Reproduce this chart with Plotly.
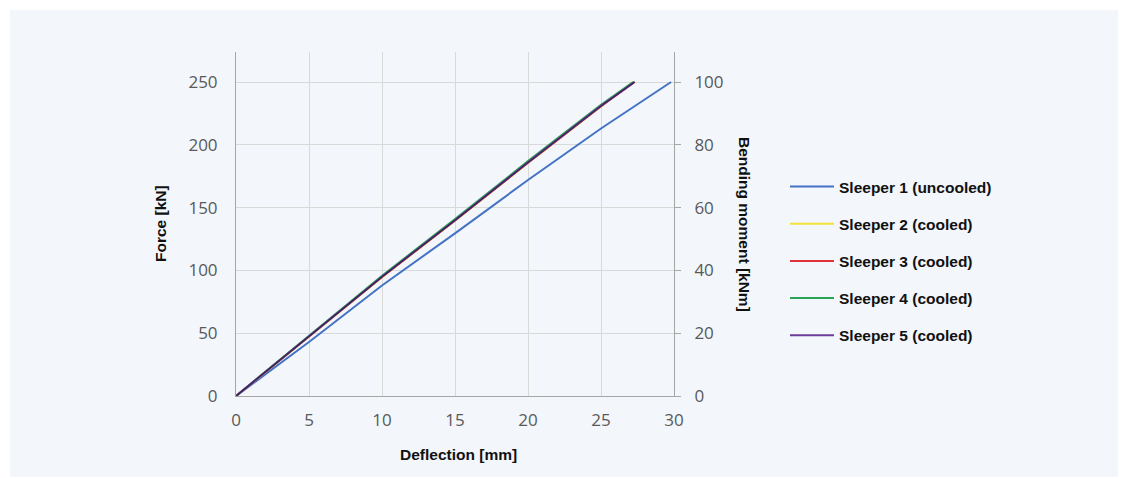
import plotly.graph_objects as go

# ---- data ----
s1_defl = [0, 2.5, 5, 10, 15, 20, 25, 29.8]
s1_force = [0, 21.5, 43, 88, 129.5, 172, 213, 250]

s2_defl = [0, 5, 10, 15, 20, 25, 27.2]
s2_force = [0, 47.2, 94.6, 139.6, 185.6, 230.6, 250]

s3_defl = [0, 5, 10, 15, 20, 25, 27.3]
s3_force = [0, 47.3, 94.8, 139.8, 185.8, 230.8, 250]

s4_defl = [0, 5, 10, 15, 20, 25, 27.2]
s4_force = [0, 48.2, 95.8, 140.8, 187, 231.8, 250]

s5_defl = [0, 5, 10, 15, 20, 25, 27.3]
s5_force = [0, 47.5, 95, 140, 186, 231, 250]

names = ["Sleeper 1 (uncooled)", "Sleeper 2 (cooled)", "Sleeper 3 (cooled)",
         "Sleeper 4 (cooled)", "Sleeper 5 (cooled)"]
colors = ["#4472C4", "#F2E33A", "#E0303A", "#27A455", "#6A3D9A"]

x_ticks = [0, 5, 10, 15, 20, 25, 30]
force_ticks = [0, 50, 100, 150, 200, 250]
moment_ticks = [0, 20, 40, 60, 80, 100]
force_max = 273.9
moment_per_force = 0.4

series = [(s1_defl, s1_force), (s2_defl, s2_force), (s3_defl, s3_force),
          (s4_defl, s4_force), (s5_defl, s5_force)]

fig = go.Figure()
for i, ((xd, yd), name, col) in enumerate(zip(series, names, colors)):
    fig.add_trace(go.Scatter(
        x=xd, y=yd, mode="lines", name=f"<b>{name}</b>",
        line=dict(color=col, width=2),
        legendgroup=f"g{i}",
    ))

# dark overlay of the coincident cooled curves (as in the reference)
fig.add_trace(go.Scatter(
    x=s5_defl, y=s5_force, mode="lines", showlegend=False,
    line=dict(color="#3A1F55", width=1.2), hoverinfo="skip",
))

# invisible companion trace so the secondary axis is rendered
fig.add_trace(go.Scatter(
    x=s1_defl, y=[v * moment_per_force for v in s1_force], yaxis="y2",
    mode="lines", line=dict(width=0), opacity=0, showlegend=False,
    hoverinfo="skip",
))

bg = "#F3F6FB"
tick_font = dict(family="Open Sans, Arial", size=17, color="#595959")
title_font = dict(family="Liberation Sans, Arial", size=15.5, color="#111111")

OFF = 8  # page body margin
W, H = 1126 - OFF, 478 - OFF
L, R, T, B = 236 - OFF, 674 - OFF, 52 - OFF, 396 - OFF
pw, ph = R - L, B - T

def px(xp):
    return (xp - OFF - L) / pw

def py(yp):
    return (B - (yp - OFF)) / ph

fig.update_layout(
    width=W, height=H, autosize=False,
    margin=dict(l=L, r=W - R, t=T, b=H - B),
    paper_bgcolor="white",
    plot_bgcolor=bg,
    showlegend=True,
    legend=dict(
        x=px(785), y=py(170), xanchor="left", yanchor="top",
        bgcolor="rgba(0,0,0,0)",
        font=dict(family="Liberation Sans, Arial", size=15.5, color="#111111"),
        tracegroupgap=14,
        traceorder="grouped",
        itemwidth=44,
    ),
    xaxis=dict(
        range=[0, 30], tickvals=x_ticks, showgrid=True, gridcolor="#D9D9D9",
        gridwidth=1, showline=True, linecolor="#A6A6A6", linewidth=1,
        zeroline=False, ticks="", tickfont=tick_font, ticklabelstandoff=9,
        fixedrange=True,
    ),
    yaxis=dict(
        range=[0, force_max], tickvals=force_ticks, showgrid=True,
        gridcolor="#D9D9D9", gridwidth=1, showline=True, linecolor="#A6A6A6",
        linewidth=1, zeroline=False, ticks="", tickfont=tick_font,
        ticklabelstandoff=14,
    ),
    yaxis2=dict(
        range=[0, force_max * moment_per_force], tickvals=moment_ticks,
        overlaying="y", side="right", showgrid=False, showline=True,
        linecolor="#A6A6A6", linewidth=1, zeroline=False, ticks="outside",
        ticklen=6, tickcolor="#A6A6A6", tickfont=tick_font,
        ticklabelstandoff=10,
    ),
    shapes=[
        dict(type="rect", xref="paper", yref="paper", layer="below",
             x0=px(10), x1=px(1140), y0=py(477), y1=py(10),
             fillcolor=bg, line=dict(width=0)),
    ],
    annotations=[
        dict(text="<b>Force [kN]</b>", xref="paper", yref="paper",
             x=px(160), y=py(224), textangle=-90, showarrow=False,
             font=title_font, xanchor="center", yanchor="middle"),
        dict(text="<b>Bending moment [kNm]</b>", xref="paper", yref="paper",
             x=px(745), y=py(224), textangle=90, showarrow=False,
             font=title_font, xanchor="center", yanchor="middle"),
        dict(text="<b>Deflection [mm]</b>", xref="paper", yref="paper",
             x=px(458), y=py(454), showarrow=False,
             font=title_font, xanchor="center", yanchor="middle"),
    ],
)

fig.write_html("out.html")
